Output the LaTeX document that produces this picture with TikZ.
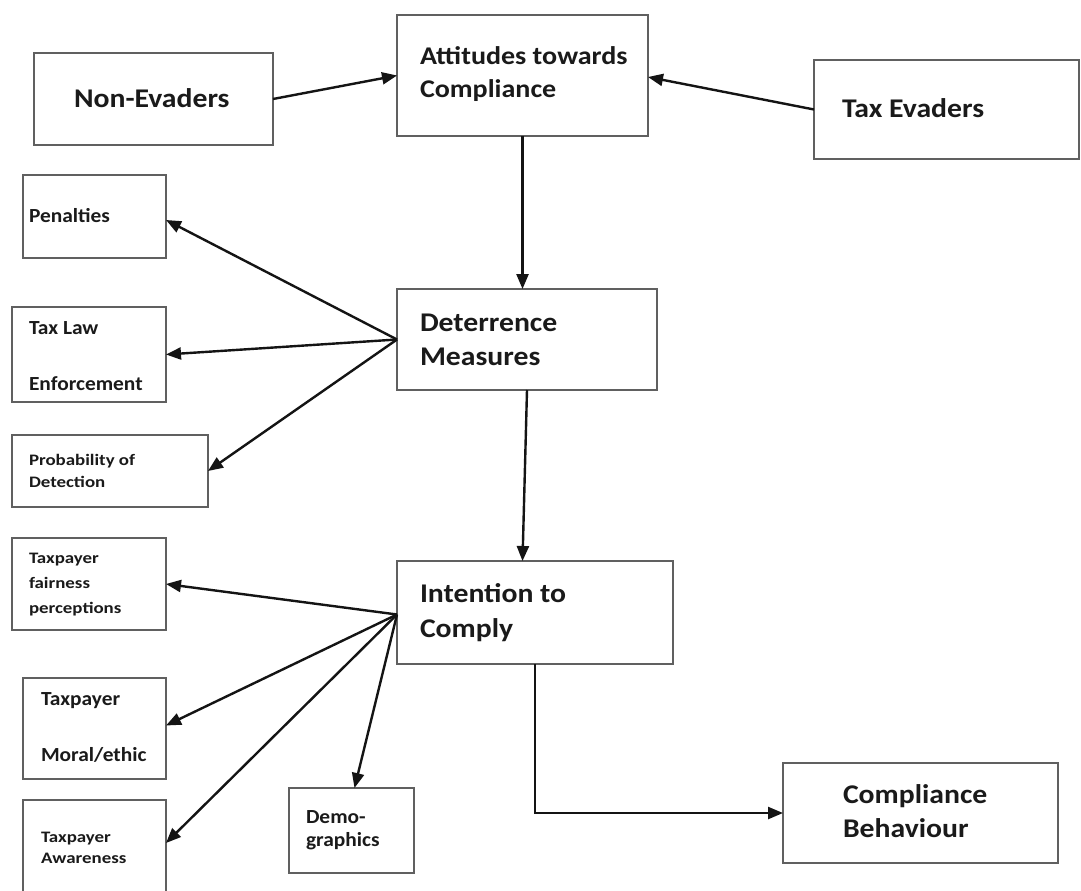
\documentclass[tikz,border=0pt]{standalone}
\usepackage{fontspec}
\setmainfont{Carlito}
\newfontfamily\fbig{Carlito}[FakeStretch=1.1]
\newfontfamily\fmed{Carlito}[FakeStretch=1.07]
\newfontfamily\fsml{Carlito}[FakeStretch=1.18]
\usetikzlibrary{arrows.meta,calc}
\definecolor{boxgray}{HTML}{606060}
\definecolor{txt}{HTML}{1A1A1A}
\tikzset{
  box/.style={draw=boxgray, line width=2.2pt, rectangle, inner sep=0pt, outer sep=0pt, fill=white},
  lbl/.style={anchor=base west, inner sep=0pt, outer sep=0pt, text=txt},
  big/.style={lbl, font=\fbig\bfseries\fontsize{27}{30}\selectfont},
  med/.style={lbl, font=\fmed\bfseries\fontsize{20}{24}\selectfont},
  sml/.style={lbl, font=\fsml\bfseries\fontsize{16}{19}\selectfont},
  arr/.style={draw=black!92, line width=2.4pt, -{Triangle[length=15pt,width=12pt]}}
}
\begin{document}
\begin{tikzpicture}[x=1pt,y=-1pt]
\useasboundingbox (0,0) rectangle (1081,891);
\clip (0,0) rectangle (1081,891);
\fill[white] (0,0) rectangle (1081,891);
% boxes
\node[box, minimum width=239pt, minimum height=92pt] (ne) at (153.5,99) {};
\node[box, minimum width=251pt, minimum height=121pt] (att) at (522.5,75.5) {};
\node[box, minimum width=265pt, minimum height=99pt] (te) at (946.5,109.5) {};
\node[box, minimum width=143pt, minimum height=83pt] (pen) at (94.5,216.5) {};
\node[box, minimum width=260pt, minimum height=101pt] (det) at (527,339.5) {};
\node[box, minimum width=154pt, minimum height=95pt] (tl) at (89,354.5) {};
\node[box, minimum width=196pt, minimum height=72pt] (prob) at (110,471) {};
\node[box, minimum width=154pt, minimum height=92pt] (fair) at (89,584) {};
\node[box, minimum width=276pt, minimum height=103pt] (int) at (535,612.5) {};
\node[box, minimum width=143pt, minimum height=101pt] (moral) at (94.5,728.5) {};
\node[box, minimum width=143pt, minimum height=100pt] (aware) at (94.5,850) {};
\node[box, minimum width=125pt, minimum height=85pt] (demo) at (351.5,830.5) {};
\node[box, minimum width=275pt, minimum height=100pt] (comp) at (920.5,813) {};
% texts
\node[big] (ne-t) at (74,107) {Non-Evaders};
\node[big, font=\fbig\bfseries\fontsize{25.5}{30}\selectfont] (att-t1) at (420,65) {Attitudes towards};
\node[big, font=\fbig\bfseries\fontsize{25.5}{30}\selectfont] (att-t2) at (420,97) {Compliance};
\node[big] (te-t) at (842,117) {Tax Evaders};
\node[med] (pen-t) at (29,222) {Penalties};
\node[big] (det-t1) at (420,331) {Deterrence};
\node[big] (det-t2) at (420,365) {Measures};
\node[med] (tl-t1) at (29,334) {Tax Law};
\node[med] (tl-t2) at (29,390) {Enforcement};
\node[sml] (prob-t1) at (29,465) {Probability of};
\node[sml] (prob-t2) at (29,487) {Detection};
\node[sml] (fair-t1) at (29,563) {Taxpayer};
\node[sml] (fair-t2) at (29,588) {fairness};
\node[sml] (fair-t3) at (29,613) {perceptions};
\node[big] (int-t1) at (420,602) {Intention to};
\node[big] (int-t2) at (420,637) {Comply};
\node[med] (moral-t1) at (41,705) {Taxpayer};
\node[med] (moral-t2) at (41,761) {Moral/ethic};
\node[sml] (aware-t1) at (41,842) {Taxpayer};
\node[sml] (aware-t2) at (41,863) {Awareness};
\node[med] (demo-t1) at (306,823) {Demo-};
\node[med] (demo-t2) at (306,846) {graphics};
\node[big] (comp-t1) at (843,803) {Compliance};
\node[big] (comp-t2) at (843,837) {Behaviour};
% connectors
\draw[arr] (ne.east) -- (att.west);
\draw[arr] (te.west) -- ($(att.east)+(0,1.5)$);
\draw[arr] (att.south) -- (att.south |- det.north);
\draw[arr] (det.south) -- (att.south |- int.north);
\coordinate (dsrc) at (det.west);
\draw[arr] (dsrc) -- ($(pen.east)+(0,3.5)$);
\draw[arr] (dsrc) -- (tl.east);
\draw[arr] (dsrc) -- (prob.east);
\coordinate (isrc) at ($(int.west)+(0,2)$);
\draw[arr] (isrc) -- (fair.east);
\draw[arr] (isrc) -- ($(moral.east)+(0,-3)$);
\draw[arr] (isrc) -- ($(aware.east)+(0,-7)$);
\draw[arr] (isrc) -- ($(demo.north)+(3,0)$);
\draw[arr] (int.south) |- (comp.west);
\end{tikzpicture}
\end{document}
